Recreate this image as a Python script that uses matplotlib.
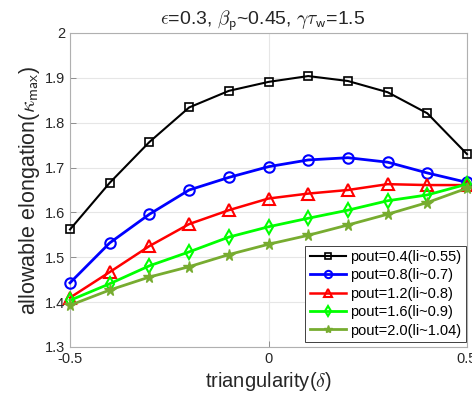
import matplotlib
matplotlib.use("Agg")
import matplotlib.pyplot as plt

plt.rcParams['font.family'] = ['Liberation Sans', 'DejaVu Sans']
plt.rcParams['mathtext.fontset'] = 'cm'

delta = [-0.5, -0.4, -0.3, -0.2, -0.1, 0.0, 0.1, 0.2, 0.3, 0.4, 0.5]
k_pout04 = [1.562, 1.666, 1.757, 1.834, 1.871, 1.891, 1.904, 1.893, 1.868, 1.821, 1.730]
k_pout08 = [1.443, 1.532, 1.596, 1.650, 1.678, 1.702, 1.717, 1.722, 1.712, 1.688, 1.667]
k_pout12 = [1.410, 1.467, 1.525, 1.574, 1.605, 1.631, 1.642, 1.650, 1.663, 1.661, 1.661]
k_pout16 = [1.404, 1.441, 1.481, 1.512, 1.545, 1.568, 1.587, 1.605, 1.626, 1.639, 1.663]
k_pout20 = [1.393, 1.427, 1.456, 1.479, 1.506, 1.529, 1.549, 1.572, 1.596, 1.622, 1.654]
labels = ['pout=0.4(li~0.55)', 'pout=0.8(li~0.7)', 'pout=1.2(li~0.8)',
          'pout=1.6(li~0.9)', 'pout=2.0(li~1.04)']
xticks = [-0.5, 0, 0.5]
yticks = [1.3, 1.4, 1.5, 1.6, 1.7, 1.8, 1.9, 2.0]

fig = plt.figure(figsize=(4.72, 4.0), dpi=100)
ax = fig.add_axes([70/472, 1-347/400, (467-70)/472, (347-33)/400])

styles = [
    dict(color='black', marker='s', ms=6, lw=1.5, mew=1.2),
    dict(color=(0, 0, 1), marker='o', ms=7.5, lw=2, mew=1.5),
    dict(color=(1, 0, 0), marker='^', ms=8, lw=1.8, mew=1.5),
    dict(color=(0, 1, 0), marker='d', ms=7.5, lw=2, mew=1.5),
    dict(color=(0.466, 0.674, 0.188), marker='*', ms=8.5, lw=2, mew=1.0),
]
series = [k_pout04, k_pout08, k_pout12, k_pout16, k_pout20]
for ys, st, lab in zip(series, styles, labels):
    mfc = st['color'] if st['marker'] == '*' else 'none'
    ax.plot(delta, ys, color=st['color'], marker=st['marker'], markersize=st['ms'],
            linewidth=st['lw'], markeredgewidth=st['mew'], markerfacecolor=mfc,
            markeredgecolor=st['color'], label=lab, clip_on=False, zorder=3)

ax.set_xlim(-0.5, 0.5)
ax.set_ylim(1.3, 2.0)
ax.set_xticks(xticks)
ax.set_xticklabels(['-0.5', '0', '0.5'])
ax.set_yticks(yticks)
ax.set_yticklabels(['1.3', '1.4', '1.5', '1.6', '1.7', '1.8', '1.9', '2'])
ax.grid(True, color='#e6e6e6', linewidth=0.8)
ax.set_axisbelow(True)
for s in ax.spines.values():
    s.set_color('#b0b0b0')
    s.set_linewidth(0.8)
ax.tick_params(direction='in', length=4, labelcolor='#262626', labelsize=10.5, width=0.6,
               color='#808080')

ax.set_title(r'$\epsilon$=0.3, $\beta_{\mathsf{p}}$~0.45, $\gamma\tau_{\mathsf{w}}$=1.5',
             fontsize=14, color='#262626', pad=5, x=0.485)
ax.set_xlabel(r'triangularity($\delta$)', fontsize=14.5, color='#262626', labelpad=3)
ax.set_ylabel(r'allowable elongation($\kappa_{\mathsf{max}}$)', fontsize=15.5,
              color='#262626', labelpad=2)

leg = ax.legend(loc='lower right', bbox_to_anchor=(0.9975, 0.016), fontsize=10.5,
                frameon=True, fancybox=False, edgecolor='#404040', framealpha=1,
                borderpad=0.3, labelspacing=0.3, handlelength=2.5, handletextpad=0.3,
                borderaxespad=0.0, markerscale=0.7)
leg.get_frame().set_linewidth(0.7)

fig.savefig('out.png', dpi=100)
